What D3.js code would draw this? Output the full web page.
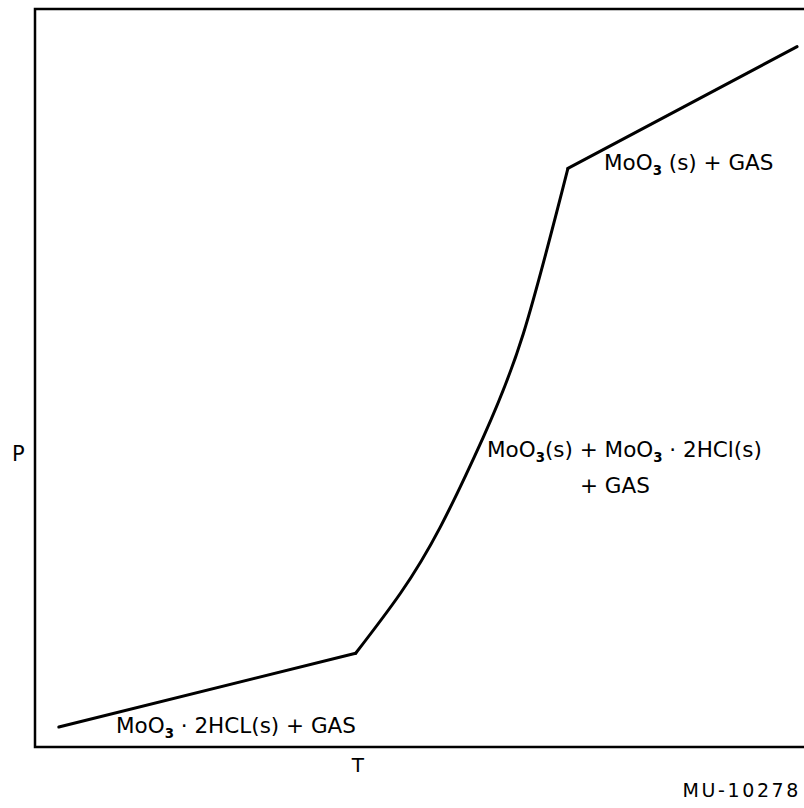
<!DOCTYPE html>
<html>
<head>
<meta charset="utf-8">
<script src="https://cdn.jsdelivr.net/npm/d3@7"></script>
<style>
  html, body { margin: 0; padding: 0; background: #fff; }
  text { font-family: "DejaVu Sans", sans-serif; fill: #000; }
</style>
</head>
<body>
<div id="chart"></div>
<script>
// Schematic P–T phase diagram (arbitrary units, 0–100 on both axes)
const lowBranch  = [[3.1, 2.7], [41.7, 12.7]];
const midBranch  = [[41.7, 12.7], [47.5, 20.8], [52.7, 29.8], [58.3, 42.0], [63.5, 56.0], [69.3, 78.4]];
const highBranch = [[69.3, 78.4], [99.1, 94.9]];

const xLabel = "T";
const yLabel = "P";
const figId  = "MU-10278";

const W = 804, H = 808;
const margin = { left: 35, top: 9, right: 0, bottom: 61 };

const svg = d3.select("#chart").append("svg")
  .attr("width", W).attr("height", H);

const x = d3.scaleLinear().domain([0, 100]).range([margin.left, W - margin.right]);
const y = d3.scaleLinear().domain([0, 100]).range([H - margin.bottom, margin.top]);

// frame (left, top, bottom; right side runs off the page)
svg.append("path")
  .attr("d", `M${x(100)},${y(100)}H${x(0)}V${y(0)}H${x(100)}`)
  .attr("fill", "none").attr("stroke", "#000").attr("stroke-width", 2.5);

const straight = d3.line().x(d => x(d[0])).y(d => y(d[1]));
const curved = d3.line().x(d => x(d[0])).y(d => y(d[1])).curve(d3.curveNatural);

[lowBranch, highBranch].forEach(seg => {
  svg.append("path").attr("d", straight(seg))
    .attr("fill", "none").attr("stroke", "#000").attr("stroke-width", 3)
    .attr("stroke-linejoin", "round").attr("stroke-linecap", "round");
});
svg.append("path").attr("d", curved(midBranch))
  .attr("fill", "none").attr("stroke", "#000").attr("stroke-width", 3)
  .attr("stroke-linecap", "round");

// labels with subscript 3
function label(xp, yp, parts, size) {
  const t = svg.append("text").attr("x", xp).attr("y", yp).attr("font-size", size);
  let shift = 0;
  parts.forEach(p => {
    const isSub = typeof p === "object";
    const target = isSub ? size * 0.24 : 0;
    const ts = t.append("tspan").attr("dy", target - shift).text(isSub ? p.s : p);
    if (isSub) ts.attr("font-size", size * 0.62).attr("font-weight", "bold");
    shift = target;
  });
  return t;
}

const fs = 21.5;
label(604, 170, ["MoO", {s: "3"}, " (s) + GAS"], fs);
label(487, 457, ["MoO", {s: "3"}, "(s) + MoO", {s: "3"}, " · 2HCl(s)"], fs);
label(580, 493, ["+ GAS"], fs);
label(116, 733, ["MoO", {s: "3"}, " · 2HCL(s) + GAS"], fs);

svg.append("text").attr("x", x(42.0)).attr("y", 772).attr("text-anchor", "middle")
  .attr("font-size", 20).text(xLabel);
svg.append("text").attr("x", 12).attr("y", 461)
  .attr("font-size", 21).text(yLabel);
svg.append("text").attr("x", 801).attr("y", 797).attr("text-anchor", "end")
  .attr("font-size", 19).attr("letter-spacing", 2.6).text(figId);
</script>
</body>
</html>
